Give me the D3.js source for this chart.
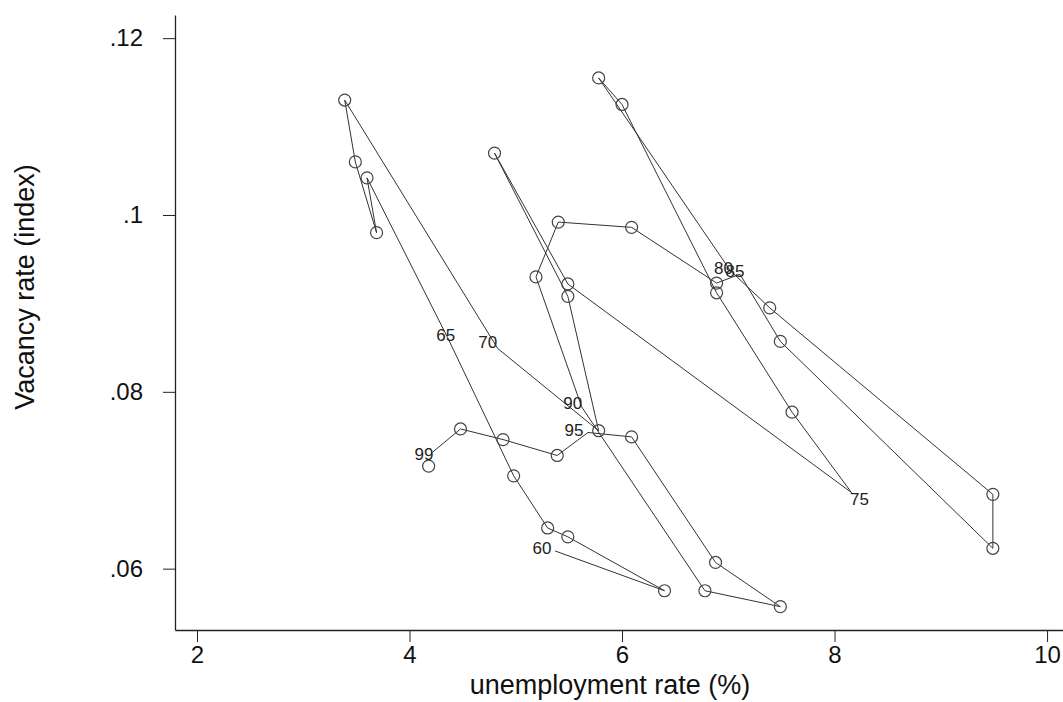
<!DOCTYPE html>
<html>
<head>
<meta charset="utf-8">
<script src="https://cdn.jsdelivr.net/npm/d3@7"></script>
<style>
  body { margin: 0; background: #fff; }
  text { font-family: 'Liberation Sans', Arial, sans-serif; }
</style>
</head>
<body>
<svg id="chart"></svg>
<script>
// data
const years = d3.range(1960, 2000)
const unemp = [5.37, 6.40, 5.49, 5.30, 4.98, 4.36, 3.60, 3.69, 3.49, 3.39,
  4.83, 5.78, 5.49, 4.80, 5.49, 8.16, 7.60, 6.89, 6.00, 5.78,
  7.02, 7.39, 9.49, 9.49, 7.49, 7.11, 6.89, 6.09, 5.40, 5.19,
  5.62, 6.78, 7.49, 6.88, 6.09, 5.68, 5.39, 4.88, 4.48, 4.22]
const vacancy = [0.0620, 0.0575, 0.0636, 0.0646, 0.0705, 0.0861, 0.1042, 0.0980, 0.1060, 0.1130,
  0.0849, 0.0756, 0.0908, 0.1070, 0.0922, 0.0686, 0.0777, 0.0912, 0.1125, 0.1155,
  0.0937, 0.0895, 0.0684, 0.0623, 0.0857, 0.0933, 0.0923, 0.0986, 0.0992, 0.0930,
  0.0783, 0.0575, 0.0557, 0.0607, 0.0749, 0.0754, 0.0728, 0.0746, 0.0758, 0.0732]
// lone marker under the "99" label
const extraUnemp = [4.18]
const extraVacancy = [0.0716]

const labelYears = [1960, 1965, 1970, 1975, 1980, 1985, 1990, 1995, 1999]
const labelText = ['60', '65', '70', '75', '80', '85', '90', '95', '99']
const labelOffset = [[-13, -3], [-2, -3], [-10, -6], [8, 6], [-7, -3], [-5, -3], [-9, -4], [-14, -2], [-9, 2]]

const xTicks = [2, 4, 6, 8, 10]
const yTicks = [0.06, 0.08, 0.1, 0.12]
const yTickLabels = ['.06', '.08', '.1', '.12']

const width = 1063, height = 702
const svg = d3.select('#chart').attr('width', width).attr('height', height)

const x = d3.scaleLinear().domain([1.793, 10.15]).range([175, 1063])
const y = d3.scaleLinear().domain([0.05306, 0.12262]).range([630, 15])

const points = years.map((yr, i) => ({ year: yr, u: unemp[i], v: vacancy[i] }))

// axes
const xAxis = svg.append('g')
  .attr('transform', 'translate(0,630)')
  .call(d3.axisBottom(x).tickValues(xTicks).tickSize(12).tickSizeOuter(0).tickPadding(4))
const yAxis = svg.append('g')
  .attr('transform', 'translate(175,0)')
  .call(d3.axisLeft(y).tickValues(yTicks).tickSize(12).tickSizeOuter(0).tickPadding(20)
    .tickFormat((d, i) => yTickLabels[i]))

;[xAxis, yAxis].forEach((g) => {
  g.select('.domain').attr('stroke', '#222').attr('stroke-width', 1.3)
  g.selectAll('.tick line').attr('stroke', '#222')
  g.selectAll('.tick text').attr('fill', '#111').style('font-size', '24px')
})

svg.append('text')
  .attr('x', 610).attr('y', 694)
  .attr('text-anchor', 'middle')
  .style('font-size', '27px').attr('fill', '#111')
  .text('unemployment rate (%)')

svg.append('text')
  .attr('transform', 'translate(34,287) rotate(-90)')
  .attr('text-anchor', 'middle')
  .style('font-size', '27px').attr('fill', '#111')
  .text('Vacancy rate (index)')

// connected path
const line = d3.line().x((d) => x(d.u)).y((d) => y(d.v))
svg.append('path')
  .datum(points)
  .attr('d', line)
  .attr('fill', 'none')
  .attr('stroke', '#333')
  .attr('stroke-width', 1)

// hollow markers for unlabelled years
const markers = points.filter((d) => !labelYears.includes(d.year))
  .concat(extraUnemp.map((u, i) => ({ u: u, v: extraVacancy[i] })))
svg.append('g').selectAll('circle')
  .data(markers)
  .join('circle')
  .attr('cx', (d) => x(d.u))
  .attr('cy', (d) => y(d.v))
  .attr('r', 6)
  .attr('fill', 'none')
  .attr('stroke', '#444')
  .attr('stroke-width', 1.2)

// year labels
svg.append('g').selectAll('text')
  .data(labelYears)
  .join('text')
  .attr('x', (yr, i) => x(unemp[years.indexOf(yr)]) + labelOffset[i][0])
  .attr('y', (yr, i) => y(vacancy[years.indexOf(yr)]) + labelOffset[i][1])
  .attr('text-anchor', 'middle')
  .attr('dy', '0.35em')
  .style('font-size', '17px')
  .attr('fill', '#222')
  .text((yr, i) => labelText[i])
</script>
</body>
</html>
